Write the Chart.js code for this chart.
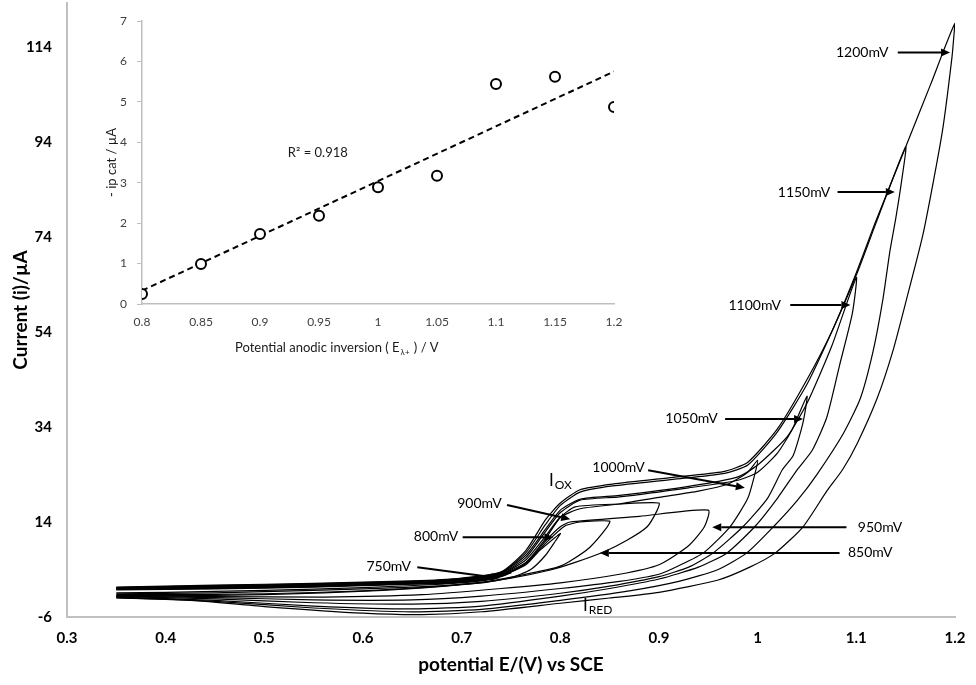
<!DOCTYPE html>
<html lang="en">
<head>
    <meta charset="UTF-8" />
    <title>Cyclic voltammograms vs anodic inversion potential</title>
    <style>
        body {
            margin: 0;
            background: #fff;
        }

        #wrap {
            position: relative;
            width: 976px;
            height: 685px;
        }

        #cvChart, #insetChart {
            position: absolute;
            left: 0;
            top: 0;
        }

        #insetChart {
            pointer-events: none;
        }
    </style>
    <script src="https://cdn.jsdelivr.net/npm/chart.js"></script>
</head>
<body>
    <div id="wrap">
        <canvas id="cvChart" width="976" height="685"></canvas>
        <canvas id="insetChart" width="640" height="370"></canvas>
    </div>

    <script>
    // main plot: [potential E (V), current (µA)] - forward scan then reverse scan
    const cv750 = [[0.35,-0.3],[0.45,-0.1],[0.55,0.3],[0.65,0.9],[0.7,1.4],[0.73,2.2],[0.75,3.3],[0.74,2.5],[0.72,1.6],[0.68,0.9],[0.6,0.2],[0.5,-0.4],[0.4,-0.8],[0.35,-0.9]];
    const cv800 = [[0.35,-0.2],[0.45,0],[0.55,0.4],[0.65,1.0],[0.7,1.5],[0.74,2.6],[0.76,4.6],[0.78,8.2],[0.8,11.6],[0.795,10],[0.785,7],[0.77,4],[0.75,2.3],[0.72,1.2],[0.65,0.3],[0.55,-0.4],[0.45,-0.9],[0.35,-1.1]];
    const cv850 = [[0.35,-0.1],[0.45,0.1],[0.55,0.5],[0.65,1.0],[0.7,1.6],[0.74,2.8],[0.765,5],[0.785,9.5],[0.805,13.2],[0.82,14],[0.85,14.2],[0.847,12.8],[0.83,8.7],[0.81,5.8],[0.797,4.5],[0.769,3.2],[0.73,1.6],[0.68,0.5],[0.6,-0.5],[0.5,-1.1],[0.4,-1.3],[0.35,-1.3]];
    const cv900 = [[0.35,0],[0.45,0.2],[0.55,0.6],[0.65,1.1],[0.7,1.7],[0.74,3],[0.765,5.5],[0.785,10.5],[0.8,15],[0.815,17.2],[0.86,17.8],[0.9,18],[0.898,16.4],[0.888,13],[0.868,10.2],[0.845,7.8],[0.815,5.5],[0.79,3.9],[0.75,2.2],[0.7,0.8],[0.62,-0.4],[0.5,-1.3],[0.4,-1.5],[0.35,-1.5]];
    const cv950 = [[0.35,0],[0.45,0.2],[0.55,0.6],[0.65,1.1],[0.7,1.7],[0.74,2.9],[0.765,5.2],[0.785,10],[0.8,13],[0.81,14],[0.88,15.2],[0.95,16.5],[0.946,13],[0.93,9],[0.9,5],[0.86,3],[0.8,1.2],[0.74,0],[0.66,-1.3],[0.56,-1.8],[0.45,-1.7],[0.35,-1.5]];
    const cv1000 = [[0.35,0.1],[0.45,0.3],[0.55,0.7],[0.65,1.2],[0.7,1.8],[0.74,3.1],[0.765,6],[0.785,11],[0.8,15],[0.82,16.8],[0.86,17.8],[0.9,19.2],[0.94,20.5],[0.97,22],[0.99,24.5],[1.0,27],[0.997,24],[0.99,19],[0.972,13],[0.945,7.5],[0.92,4.8],[0.9,3],[0.86,1.5],[0.8,0],[0.72,-1.6],[0.65,-2.4],[0.55,-2.4],[0.45,-1.9],[0.35,-1.6]];
    const cv1050 = [[0.35,0.1],[0.45,0.4],[0.55,0.8],[0.65,1.3],[0.7,1.9],[0.74,3.2],[0.765,6.5],[0.785,12],[0.8,16],[0.82,18.6],[0.86,19.3],[0.93,21.2],[0.98,22.8],[1.0,24.5],[1.02,28.5],[1.035,33.5],[1.05,40.5],[1.046,35],[1.036,28],[1.025,25],[1.01,19],[0.985,13],[0.955,7.5],[0.93,4.5],[0.9,2.5],[0.85,0.5],[0.8,-1],[0.72,-2.7],[0.65,-3.3],[0.55,-3],[0.45,-2.2],[0.35,-1.7]];
    const cv1100 = [[0.35,0.2],[0.45,0.5],[0.55,0.9],[0.65,1.4],[0.7,2.0],[0.74,3.3],[0.765,7],[0.785,12.5],[0.8,16.5],[0.82,18.8],[0.86,19.6],[0.93,21.5],[0.98,23.5],[1.0,26],[1.03,32],[1.05,39],[1.075,51],[1.1,65.5],[1.096,58],[1.083,47],[1.07,36],[1.055,29],[1.04,25],[1.02,19],[0.997,13],[0.969,7.5],[0.94,4.5],[0.9,2],[0.85,0],[0.8,-1.6],[0.72,-3.7],[0.65,-4.3],[0.55,-3.7],[0.45,-2.5],[0.35,-1.8]];
    const cv1150 = [[0.35,0.2],[0.45,0.6],[0.55,1.0],[0.65,1.5],[0.7,2.1],[0.74,3.4],[0.765,7.5],[0.785,13.5],[0.8,17.5],[0.82,20.3],[0.853,21.6],[0.914,23],[0.965,24.2],[0.99,26],[1.02,33],[1.05,43],[1.075,54],[1.1,66],[1.12,77],[1.15,93],[1.146,86],[1.14,78],[1.134,71],[1.127,61],[1.117,50],[1.104,40],[1.087,32.7],[1.06,24],[1.04,18.5],[1.016,13],[0.989,7.5],[0.96,4],[0.92,1.5],[0.87,-0.5],[0.8,-2.5],[0.72,-4.4],[0.65,-4.9],[0.55,-4.1],[0.45,-2.7],[0.35,-1.9]];
    const cv1200 = [[0.35,0.3],[0.45,0.7],[0.55,1.1],[0.65,1.6],[0.7,2.2],[0.74,3.5],[0.765,8],[0.785,14.5],[0.8,18],[0.82,20.8],[0.853,22],[0.914,23.4],[0.965,24.6],[0.99,26.6],[1.02,33.6],[1.05,44],[1.076,54.5],[1.1,66.5],[1.12,77.5],[1.151,93.5],[1.175,106],[1.2,119],[1.197,112],[1.187,96],[1.168,75],[1.151,61],[1.137,50],[1.121,40],[1.101,30.6],[1.086,25],[1.07,20.5],[1.046,13],[1.018,7.5],[0.992,4.5],[0.96,1.8],[0.9,-0.8],[0.85,-2.0],[0.8,-3.1],[0.72,-4.9],[0.66,-5.5],[0.6,-5.2],[0.5,-3.8],[0.42,-2.4],[0.35,-2.0]];

    const loopNames = ['750mV', '800mV', '850mV', '900mV', '950mV', '1000mV', '1050mV', '1100mV', '1150mV', '1200mV'];
    const loops = [cv750, cv800, cv850, cv900, cv950, cv1000, cv1050, cv1100, cv1150, cv1200];
    const xTicks = [0.3, 0.4, 0.5, 0.6, 0.7, 0.8, 0.9, 1.0, 1.1, 1.2];
    const yTicks = [-6, 14, 34, 54, 74, 94, 114];

    // inset: catalytic peak current vs anodic inversion potential
    const insetE = [0.8, 0.85, 0.9, 0.95, 1.0, 1.05, 1.1, 1.15, 1.2];
    const insetIp = [0.25, 0.99, 1.73, 2.18, 2.89, 3.17, 5.44, 5.62, 4.87];
    const trendE = [0.8, 1.2];
    const trendIp = [0.33, 5.75];
    const insetXTicks = [0.8, 0.85, 0.9, 0.95, 1.0, 1.05, 1.1, 1.15, 1.2];
    const insetYTicks = [0, 1, 2, 3, 4, 5, 6, 7];

    // labels with arrows, in data units of the main plot
    const arrowNotes = [
      { text: '1200mV', at: [1.106, 112.9], from: [1.142, 112.9], to: [1.195, 112.9] },
      { text: '1150mV', at: [1.047, 83.5], from: [1.081, 83.5], to: [1.139, 83.5] },
      { text: '1100mV', at: [0.997, 59.7], from: [1.033, 59.7], to: [1.094, 59.7] },
      { text: '1050mV', at: [0.933, 35.7], from: [0.967, 35.7], to: [1.046, 35.7] },
      { text: '1000mV', at: [0.859, 25.4], from: [0.889, 24.9], to: [0.987, 21.2] },
      { text: '950mV', at: [1.124, 12.9], from: [1.09, 12.9], to: [0.954, 12.9] },
      { text: '850mV', at: [1.114, 7.5], from: [1.083, 7.5], to: [0.84, 7.5] },
      { text: '900mV', at: [0.718, 17.8], from: [0.746, 17.6], to: [0.81, 14.6] },
      { text: '800mV', at: [0.674, 11.0], from: [0.701, 10.8], to: [0.793, 10.8] },
      { text: '750mV', at: [0.626, 4.7], from: [0.655, 4.5], to: [0.739, 2.2] }
    ];

    function drawArrow(ctx, x0, y0, x1, y1) {
      const ang = Math.atan2(y1 - y0, x1 - x0);
      const len = 9, half = 4;
      const bx = x1 - len * Math.cos(ang), by = y1 - len * Math.sin(ang);
      ctx.lineWidth = 2;
      ctx.beginPath();
      ctx.moveTo(x0, y0);
      ctx.lineTo(bx, by);
      ctx.stroke();
      ctx.beginPath();
      ctx.moveTo(x1, y1);
      ctx.lineTo(bx + half * Math.sin(ang), by - half * Math.cos(ang));
      ctx.lineTo(bx - half * Math.sin(ang), by + half * Math.cos(ang));
      ctx.closePath();
      ctx.fill();
    }

    function subLabel(ctx, main, sub, x, y) {
      ctx.textAlign = 'left';
      ctx.textBaseline = 'middle';
      ctx.font = '17px Lato';
      ctx.fillText(main, x, y);
      const w = ctx.measureText(main).width;
      ctx.font = '12px Lato';
      ctx.fillText(sub, x + w + 1, y + 5);
    }

    const notesPlugin = {
      id: 'notes',
      afterDatasetsDraw(chart) {
        const { ctx, scales: { x, y } } = chart;
        ctx.save();
        ctx.fillStyle = '#000';
        ctx.strokeStyle = '#000';
        arrowNotes.forEach(n => {
          ctx.font = '14px Lato';
          ctx.textAlign = 'center';
          ctx.textBaseline = 'middle';
          ctx.fillText(n.text, x.getPixelForValue(n.at[0]), y.getPixelForValue(n.at[1]));
          drawArrow(ctx,
            x.getPixelForValue(n.from[0]), y.getPixelForValue(n.from[1]),
            x.getPixelForValue(n.to[0]), y.getPixelForValue(n.to[1]));
        });
        subLabel(ctx, 'I', 'OX', x.getPixelForValue(0.7885), y.getPixelForValue(22.8));
        subLabel(ctx, 'I', 'RED', x.getPixelForValue(0.823), y.getPixelForValue(-3.5));
        ctx.restore();
      }
    };

    // main voltammogram chart
    new Chart(document.getElementById('cvChart'), {
      type: 'line',
      data: {
        datasets: loops.map((pts, i) => ({
          label: loopNames[i],
          data: pts.map(p => ({ x: p[0], y: p[1] })),
          borderColor: '#000',
          borderWidth: 1.2,
          pointRadius: 0,
          tension: 0.2,
          fill: false
        }))
      },
      options: {
        responsive: false,
        animation: false,
        layout: { padding: { top: 3, right: 21, left: 0, bottom: 0 } },
        plugins: { legend: { display: false }, tooltip: { enabled: false } },
        scales: {
          x: {
            type: 'linear',
            min: 0.3,
            max: 1.2,
            afterBuildTicks: s => { s.ticks = xTicks.map(v => ({ value: v })); },
            afterFit: s => { s.height = 68; s.paddingLeft = 0; s.paddingRight = 0; },
            grid: { display: true, drawOnChartArea: false, drawTicks: false },
            border: { display: true, color: '#c0c0c0', width: 2 },
            ticks: {
              padding: 12,
              color: '#000',
              font: { family: 'Lato', size: 15, weight: 'bold' },
              callback: v => String(parseFloat(v.toFixed(2)))
            },
            title: {
              display: true,
              text: 'potential E/(V) vs SCE',
              color: '#000',
              font: { family: 'Lato', size: 19, weight: 'bold' },
              padding: { top: 0, bottom: 9 }
            }
          },
          y: {
            min: -6,
            max: 123.3,
            afterBuildTicks: s => { s.ticks = yTicks.map(v => ({ value: v })); },
            afterFit: s => { s.width = 67; s.paddingTop = 0; s.paddingBottom = 0; },
            grid: { display: true, drawOnChartArea: false, drawTicks: false },
            border: { display: true, color: '#c0c0c0', width: 2 },
            ticks: {
              padding: 15,
              color: '#000',
              font: { family: 'Lato', size: 15, weight: 'bold' }
            },
            title: {
              display: true,
              text: 'Current (i)/µA',
              color: '#000',
              font: { family: 'Lato', size: 19, weight: 'bold' },
              padding: { top: 9, bottom: 0 }
            }
          }
        }
      },
      plugins: [notesPlugin]
    });

    // inset labels: R² and x-axis title with subscript
    const insetTextPlugin = {
      id: 'insetText',
      afterDraw(chart) {
        const { ctx, scales: { x, y } } = chart;
        ctx.save();
        ctx.fillStyle = '#1a1a1a';
        ctx.font = '13px Lato';
        ctx.textAlign = 'center';
        ctx.textBaseline = 'middle';
        ctx.fillText('R² = 0.918', x.getPixelForValue(0.949), y.getPixelForValue(3.73));

        ctx.textAlign = 'left';
        let tx = 235;
        const ty = 348;
        const part1 = 'Potential anodic inversion ( E';
        ctx.fillText(part1, tx, ty);
        tx += ctx.measureText(part1).width;
        ctx.font = '8px Lato';
        ctx.fillText('λ+', tx + 1, ty + 4);
        tx += ctx.measureText('λ+').width + 2;
        ctx.font = '13px Lato';
        ctx.fillText(' ) / V', tx, ty);
        ctx.restore();
      }
    };

    // inset scatter with linear trend line
    new Chart(document.getElementById('insetChart'), {
      type: 'scatter',
      data: {
        datasets: [
          {
            data: insetE.map((e, i) => ({ x: e, y: insetIp[i] })),
            pointRadius: 5,
            pointBorderWidth: 2,
            pointBorderColor: '#000',
            pointBackgroundColor: '#fff',
            order: 0
          },
          {
            type: 'line',
            data: trendE.map((e, i) => ({ x: e, y: trendIp[i] })),
            borderColor: '#000',
            borderWidth: 2,
            borderDash: [6, 4],
            pointRadius: 0,
            order: 1
          }
        ]
      },
      options: {
        responsive: false,
        animation: false,
        layout: { padding: { top: 21, right: 26, left: 0, bottom: 0 } },
        plugins: { legend: { display: false }, tooltip: { enabled: false } },
        scales: {
          x: {
            type: 'linear',
            min: 0.8,
            max: 1.2,
            afterBuildTicks: s => { s.ticks = insetXTicks.map(v => ({ value: v })); },
            afterFit: s => { s.height = 66; s.paddingLeft = 0; s.paddingRight = 0; },
            grid: { display: true, drawOnChartArea: false, drawTicks: false },
            border: { display: true, color: '#bfbfbf', width: 1.5 },
            ticks: {
              padding: 11,
              color: '#404040',
              font: { family: 'Lato', size: 12 },
              callback: v => String(parseFloat(v.toFixed(2)))
            }
          },
          y: {
            min: 0,
            max: 7,
            afterBuildTicks: s => { s.ticks = insetYTicks.map(v => ({ value: v })); },
            afterFit: s => { s.width = 142; s.paddingTop = 0; s.paddingBottom = 0; },
            grid: { display: true, drawOnChartArea: false, drawTicks: true, tickLength: 5, color: '#bfbfbf' },
            border: { display: true, color: '#bfbfbf', width: 1.5 },
            ticks: {
              padding: 10,
              color: '#404040',
              font: { family: 'Lato', size: 12 }
            },
            title: {
              display: true,
              text: '- ip cat / µA',
              color: '#1a1a1a',
              font: { family: 'Lato', size: 13 },
              padding: { top: 104, bottom: 0 }
            }
          }
        }
      },
      plugins: [insetTextPlugin]
    });
    </script>
</body>
</html>
